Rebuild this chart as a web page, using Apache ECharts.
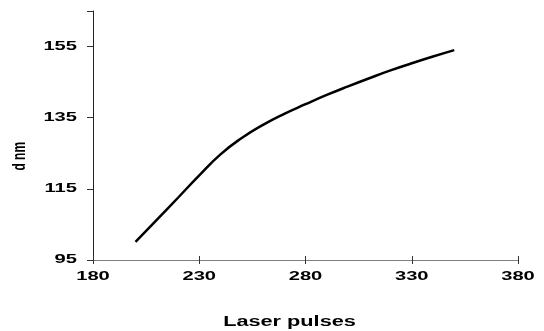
<!DOCTYPE html>
<html>
<head>
<meta charset="utf-8">
<script src="https://cdn.jsdelivr.net/npm/echarts@6/dist/echarts.min.js"></script>
<style>
  html, body { margin: 0; padding: 0; background: #fff; }
  #chart { width: 544px; height: 331px; }
</style>
</head>
<body>
<div id="chart"></div>
<script>
// Particle size versus number of laser pulses
const pulses = [200, 210, 220, 230, 240, 250, 260, 270, 280, 290, 300, 310, 320, 330, 340, 350];
const sizeNm = [100.1, 106.3, 112.5, 118.8, 124.7, 129.3, 133.0, 136.1, 138.8, 141.4, 143.8, 146.1, 148.3, 150.3, 152.2, 154.0];
const xTicks = [180, 230, 280, 330, 380];
const yTicks = [95, 115, 135, 155];
const xTitle = 'Laser pulses';
const yTitle = 'd nm';

const font = 'Liberation Sans, Arial, sans-serif';
const stretch = 1.55; // wide bold lettering used for all labels
const chart = echarts.init(document.getElementById('chart'));

chart.setOption({
  animation: false,
  grid: { left: 93, right: 26, top: 11, bottom: 71 },
  xAxis: [{
    type: 'value',
    min: xTicks[0],
    max: xTicks[xTicks.length - 1],
    interval: xTicks[1] - xTicks[0],
    axisLine: { show: true, lineStyle: { color: '#808080', width: 1 } },
    axisTick: { show: true, length: 4, lineStyle: { color: '#333' } },
    axisLabel: { show: false },
    splitLine: { show: false }
  }, {
    // inner half of the crossing tick marks
    type: 'value',
    position: 'bottom',
    min: xTicks[0],
    max: xTicks[xTicks.length - 1],
    interval: xTicks[1] - xTicks[0],
    axisLine: { show: false },
    axisTick: { show: true, inside: true, length: 4, lineStyle: { color: '#333' } },
    axisLabel: { show: false },
    splitLine: { show: false }
  }],
  yAxis: {
    type: 'value',
    min: yTicks[0],
    max: 165,
    interval: yTicks[1] - yTicks[0],
    axisLine: { show: true, lineStyle: { color: '#222', width: 1 } },
    axisTick: { show: true, length: 6, lineStyle: { color: '#333' } },
    axisLabel: { show: false },
    splitLine: { show: false }
  },
  series: [{
    type: 'line',
    data: pulses.map((p, i) => [p, sizeNm[i]]),
    smooth: 0.5,
    showSymbol: false,
    lineStyle: { color: '#000', width: 2.5 }
  }]
});

// Tick labels and axis titles, placed through the axis scales
const labelFont = 'bold 13px ' + font;
const labels = [];
xTicks.forEach(v => {
  const px = chart.convertToPixel({ xAxisIndex: 0 }, v);
  const py = chart.convertToPixel({ yAxisIndex: 0 }, yTicks[0]);
  labels.push({
    type: 'text', x: px, y: py + 16, scaleX: stretch,
    style: { text: String(v), font: labelFont, fill: '#000', align: 'center', verticalAlign: 'middle' }
  });
});
yTicks.forEach(v => {
  const px = chart.convertToPixel({ xAxisIndex: 0 }, xTicks[0]);
  const py = chart.convertToPixel({ yAxisIndex: 0 }, v);
  labels.push({
    type: 'text', x: px - 16, y: py - 0.5, scaleX: stretch,
    style: { text: String(v), font: labelFont, fill: '#000', align: 'right', verticalAlign: 'middle' }
  });
});
const x0 = chart.convertToPixel({ xAxisIndex: 0 }, xTicks[0]);
const x1 = chart.convertToPixel({ xAxisIndex: 0 }, xTicks[xTicks.length - 1]);
const yBase = chart.convertToPixel({ yAxisIndex: 0 }, yTicks[0]);
const yMid = chart.convertToPixel({ yAxisIndex: 0 }, (yTicks[1] + yTicks[2]) / 2);
labels.push({
  type: 'text', x: (x0 + x1) / 2 - 16, y: yBase + 62, scaleX: stretch,
  style: { text: xTitle, font: 'bold 14px ' + font, fill: '#000', align: 'center', verticalAlign: 'middle' }
});
// rotated title: widen the glyphs across the text line
labels.push({
  type: 'text', x: x0 - 73, y: yMid + 3, rotation: Math.PI / 2, scaleY: stretch,
  style: { text: yTitle, font: 'bold 12px ' + font, fill: '#000', align: 'center', verticalAlign: 'middle' }
});
chart.setOption({ graphic: labels });
</script>
</body>
</html>
